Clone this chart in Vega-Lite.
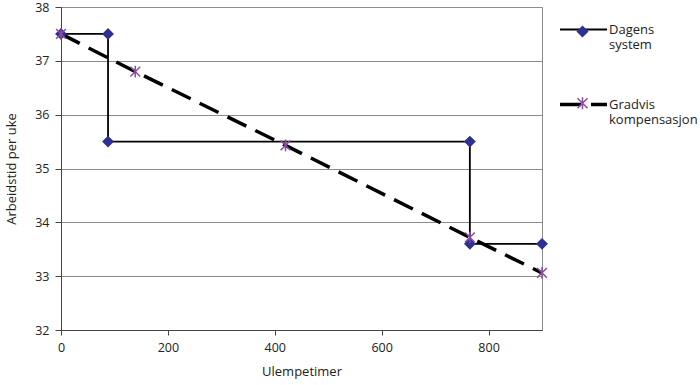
{
  "$schema": "https://vega.github.io/schema/vega-lite/v6.json",
  "width": 481,
  "height": 323,
  "autosize": {"type": "none"},
  "padding": {"left": 61, "top": 7, "right": 158, "bottom": 55},
  "background": "white",
  "config": {
    "font": "Open Sans",
    "view": {"stroke": "#8c8c8c", "strokeWidth": 1},
    "axis": {
      "labelFont": "Open Sans", "titleFont": "Open Sans",
      "labelFontSize": 12.5, "titleFontSize": 13, "titleFontWeight": "normal",
      "labelColor": "#222", "titleColor": "#222", "labelFlush": false,
      "domainColor": "#444", "tickColor": "#444", "gridColor": "#8c8c8c", "gridOpacity": 1
    },
    "legend": {"labelFont": "Open Sans", "labelFontSize": 13, "labelColor": "#222", "padding": 0, "labelLineHeight": 17}
  },
  "data": {
    "values": [
      {"serie": "Dagens system", "rekkefolge": 1, "ulempetimer": 0, "arbeidstid": 37.5},
      {"serie": "Dagens system", "rekkefolge": 2, "ulempetimer": 88, "arbeidstid": 37.5},
      {"serie": "Dagens system", "rekkefolge": 3, "ulempetimer": 88, "arbeidstid": 35.5},
      {"serie": "Dagens system", "rekkefolge": 4, "ulempetimer": 765, "arbeidstid": 35.5},
      {"serie": "Dagens system", "rekkefolge": 5, "ulempetimer": 765, "arbeidstid": 33.6},
      {"serie": "Dagens system", "rekkefolge": 6, "ulempetimer": 900, "arbeidstid": 33.6},
      {"serie": "Gradvis kompensasjon", "rekkefolge": 1, "ulempetimer": 0, "arbeidstid": 37.5},
      {"serie": "Gradvis kompensasjon", "rekkefolge": 2, "ulempetimer": 139, "arbeidstid": 36.8},
      {"serie": "Gradvis kompensasjon", "rekkefolge": 3, "ulempetimer": 420, "arbeidstid": 35.43},
      {"serie": "Gradvis kompensasjon", "rekkefolge": 4, "ulempetimer": 765, "arbeidstid": 33.72},
      {"serie": "Gradvis kompensasjon", "rekkefolge": 5, "ulempetimer": 900, "arbeidstid": 33.06}
    ]
  },
  "encoding": {
    "x": {
      "field": "ulempetimer", "type": "quantitative",
      "scale": {"domain": [0, 900], "nice": false},
      "axis": {"title": "Ulempetimer", "values": [0, 200, 400, 600, 800], "grid": false, "tickSize": 5, "labelPadding": 6, "titlePadding": 12}
    },
    "y": {
      "field": "arbeidstid", "type": "quantitative",
      "scale": {"domain": [32, 38], "nice": false, "zero": false},
      "axis": {"title": "Arbeidstid per uke", "values": [32, 33, 34, 35, 36, 37, 38], "grid": true, "tickSize": 6, "labelPadding": 6, "titlePadding": 16}
    }
  },
  "layer": [
    {
      "mark": {"type": "line", "color": "black"},
      "encoding": {
        "order": {"field": "rekkefolge", "type": "quantitative"},
        "strokeDash": {
          "field": "serie", "type": "nominal",
          "scale": {"domain": ["Dagens system", "Gradvis kompensasjon"], "range": [[1, 0], [21, 10]]},
          "legend": {"title": null, "orient": "none", "legendX": 497, "legendY": -2, "symbolType": "stroke", "symbolSize": 2209, "symbolStrokeColor": "black", "labelExpr": "split(datum.label, ' ')", "rowPadding": 27, "labelOffset": 0}
        },
        "strokeWidth": {
          "field": "serie", "type": "ordinal",
          "scale": {"domain": ["Dagens system", "Gradvis kompensasjon"], "range": [1.8, 3.5]},
          "legend": {"title": null, "orient": "none", "legendX": 497, "legendY": -2, "symbolType": "stroke", "symbolSize": 2209, "symbolStrokeColor": "black", "labelExpr": "split(datum.label, ' ')", "rowPadding": 27, "labelOffset": 0}
        }
      }
    },
    {
      "mark": {"type": "point", "size": 95, "strokeWidth": 1.5, "opacity": 1},
      "encoding": {
        "shape": {
          "field": "serie", "type": "nominal",
          "scale": {"range": ["diamond", "M-1,-1L1,1M-1,1L1,-1M0,-1.2L0,1.2"]},
          "legend": {"title": null, "orient": "none", "legendX": 515, "legendY": 18, "symbolSize": 100, "symbolStrokeWidth": 1.5, "labelExpr": "''", "rowPadding": 53.7, "labelOffset": 0}
        },
        "fill": {
          "field": "serie", "type": "nominal",
          "scale": {"range": ["#2E3192", "transparent"]},
          "legend": {"title": null, "orient": "none", "legendX": 515, "legendY": 18, "symbolSize": 100, "symbolStrokeWidth": 1.5, "labelExpr": "''", "rowPadding": 53.7, "labelOffset": 0}
        },
        "stroke": {
          "field": "serie", "type": "nominal",
          "scale": {"range": ["#2E3192", "#8A4BA3"]},
          "legend": {"title": null, "orient": "none", "legendX": 515, "legendY": 18, "symbolSize": 100, "symbolStrokeWidth": 1.5, "labelExpr": "''", "rowPadding": 53.7, "labelOffset": 0}
        }
      }
    }
  ]
}
